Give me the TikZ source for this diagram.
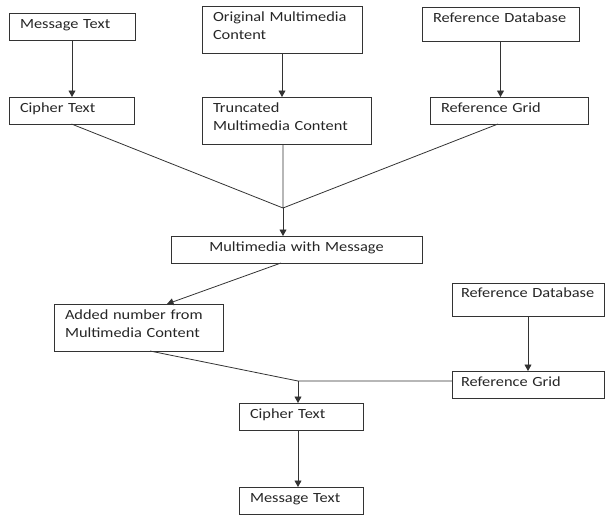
\documentclass[tikz,border=0pt]{standalone}
\usepackage{fontspec}
\setmainfont{Carlito}[FakeStretch = 1.17]
\usetikzlibrary{arrows.meta}

\tikzset{
	box/.style = {draw = black!80, line width = 0.9pt, anchor = north west, align = left,
		inner xsep = 11pt, inner ysep = 0pt, outer sep = 0pt,
		text height = 15.5pt, text depth = 11.5pt, text = black!85},
	tall/.style = {text depth = 31.5pt},
	deep/.style = {text depth = 19pt},
	link/.style = {draw = black!80, line width = 0.8pt},
	arrow/.style = {link, -{Triangle[length = 6.5pt, width = 7pt]}}
}

\begin{document}
\begin{tikzpicture}[x = 1pt, y = -1pt, font = \fontsize{14pt}{18pt}\selectfont]
	\useasboundingbox (0,0) rectangle (605,515);
	% first stage
	\node[box, text width = 104pt] (msgA) at (9,13) {Message Text};
	\node[box, tall, text width = 138pt, text depth = 32pt] (orig) at (202,6) {Original Multimedia\\Content};
	\node[box, deep, text width = 135pt] (refdbA) at (422,7) {Reference~Database};
	\node[box, text width = 103pt] (cipA) at (9,97) {Cipher Text};
	\node[box, tall, text width = 147pt] (trunc) at (202,97) {Truncated\\Multimedia Content};
	\node[box, text width = 136pt] (refgA) at (430,97) {Reference Grid};
	\node[box, align = center, text width = 229pt] (mwm) at (171,236) {Multimedia with Message};
	% second stage
	\node[box, tall, text width = 147pt] (added) at (54,304) {Added number from\\Multimedia Content};
	\node[box, deep, inner xsep = 9pt, text width = 134pt, text height = 14pt] (refdbB) at (452,283) {Reference~Database};
	\node[box, inner xsep = 9pt, text width = 134pt] (refgB) at (452,371) {Reference Grid};
	\node[box, text width = 102pt] (cipB) at (239,403) {Cipher Text};
	\node[box, text width = 102pt] (msgB) at (239,487) {Message Text};
	\coordinate (joinA) at (283,208);
	\coordinate (joinB) at (298,381);
	\draw[arrow] (msgA.south) -- (msgA.south |- cipA.north);
	\draw[arrow] (orig.south) -- (orig.south |- trunc.north);
	\draw[arrow] (refdbA.south) -- (refdbA.south |- refgA.north);
	\draw[link] (cipA.south) -- (joinA)
		(joinA |- trunc.south) -- (joinA)
		([xshift = -11pt]refgA.south) -- (joinA);
	\draw[arrow] (joinA) -- (joinA |- mwm.north);
	\draw[arrow] ([xshift = -15.5pt]mwm.south) -- ([xshift = 28.5pt]added.north);
	\draw[arrow] (refdbB.south) -- (refdbB.south |- refgB.north);
	\draw[link] ([xshift = 11.5pt]added.south) -- (joinB) -- (refgB.west |- joinB);
	\draw[arrow] (joinB) -- (joinB |- cipB.north);
	\draw[arrow] (joinB |- cipB.south) -- (joinB |- msgB.north);
\end{tikzpicture}
\end{document}
